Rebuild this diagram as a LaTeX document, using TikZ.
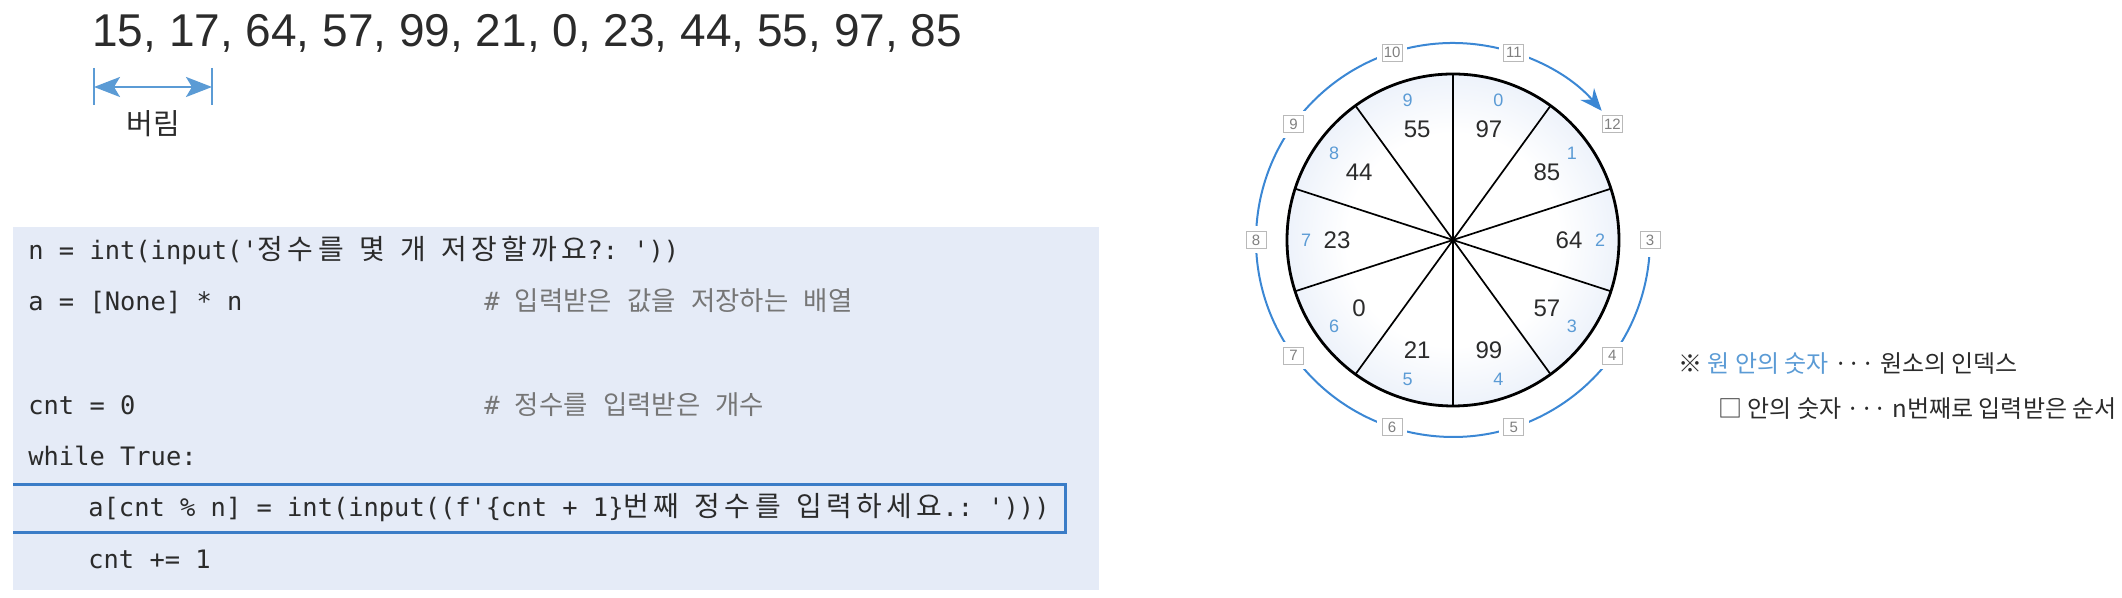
\documentclass[tikz,border=0pt]{standalone}
\usepackage{fontspec}
\setmainfont{Liberation Sans}
\setmonofont{DejaVu Sans Mono}
\newfontfamily\krfont{Noto Sans CJK KR}
\newfontfamily\krcode[Scale=1.1, LetterSpace=16]{Noto Sans CJK KR}
\newfontfamily\krnote[Scale=1.04]{Noto Sans CJK KR}
\usetikzlibrary{arrows.meta,calc,positioning}

\definecolor{txtdark}{HTML}{2B2B2B}
\definecolor{codebg}{HTML}{E5EBF7}
\definecolor{codeblue}{HTML}{3A7CC7}
\definecolor{idxblue}{HTML}{5B9BD5}
\definecolor{arcblue}{HTML}{3B87D4}
\definecolor{rimblue}{HTML}{BCCFEE}
\definecolor{cmtgray}{HTML}{767676}

\pgfdeclareradialshading{rimshade}{\pgfpoint{0bp}{0bp}}{color(0bp)=(white); color(16bp)=(white); color(50bp)=(rimblue)}

\newcommand\kc[1]{{\krcode #1}}
\newcommand\kn[1]{{\krnote #1}}

\tikzstyle{numlist} = [anchor=base west, inner sep=0pt, font=\fontsize{23pt}{27pt}\selectfont, text=txtdark]
\tikzstyle{codeline} = [anchor=base west, inner sep=0pt, font=\ttfamily\fontsize{12.7pt}{15pt}\selectfont, text=txtdark]
\tikzstyle{comment} = [codeline, text=cmtgray]
\tikzstyle{valnum} = [inner sep=0pt, font=\fontsize{12pt}{14pt}\selectfont, text=txtdark]
\tikzstyle{idxnum} = [inner sep=0pt, font=\fontsize{9pt}{10pt}\selectfont, text=idxblue]
\tikzstyle{seqbox} = [draw=gray!55, fill=white, preaction={draw=white, line width=5pt}, minimum width=10pt, minimum height=8.5pt, inner sep=0pt, font=\fontsize{7.5pt}{8pt}\selectfont, text=gray]
\tikzstyle{legend} = [anchor=base west, inner sep=0pt, font=\krfont\fontsize{12pt}{14pt}\selectfont, text=txtdark]

\begin{document}
\begin{tikzpicture}[x=0.5pt, y=0.5pt]
\useasboundingbox (0,0) rectangle (2122,598);

% input sequence
\node[numlist] (nums) at (92,551) {15, 17, 64, 57, 99, 21, 0, 23, 44, 55, 97, 85};
\coordinate (dropl) at (94,511);
\coordinate (dropr) at (212,511);
\draw[idxblue, line width=1pt] ($(dropl)+(0,19)$) -- ($(dropl)+(0,-18)$);
\draw[idxblue, line width=1pt] ($(dropr)+(0,19)$) -- ($(dropr)+(0,-18)$);
\draw[idxblue, line width=1.2pt, {Stealth[length=13pt,width=10pt,inset=3pt]}-{Stealth[length=13pt,width=10pt,inset=3pt]}] (dropl) -- (dropr);
\node[font=\krfont\fontsize{14.5pt}{16pt}\selectfont, text=txtdark] (drop) at (153,474) {버림};

% code
\fill[codebg] (13,8) rectangle (1099,371);
\draw[codeblue, line width=1.5pt] (13,113) -- (1065,113) -- (1065,65) -- (13,65);
\node[codeline] (l1) at (28,338) {n = int(input('\kc{정수를} \kc{몇} \kc{개} \kc{저장할까요}?: '))};
\node[codeline] (l2) at (28,287) {a = [None] * n};
\node[comment] (c2) at (484,287) {\# \kn{입력받은} \kn{값을} \kn{저장하는} \kn{배열}};
\node[codeline] (l4) at (28,183) {cnt = 0};
\node[comment] (c4) at (484,183) {\# \kn{정수를} \kn{입력받은} \kn{개수}};
\node[codeline] (l5) at (28,132) {while True:};
\node[codeline] (l6) at (88,81) {a[cnt \% n] = int(input((f'\{cnt + 1\}\kc{번째} \kc{정수를} \kc{입력하세요}.: ')))};
\node[codeline] (l7) at (88,29) {cnt += 1};

% circular buffer
\coordinate (ctr) at (1453,358);
\shade[shading=rimshade] (ctr) circle (166);
\foreach \a in {18,54,...,342}
  \draw[line width=0.85pt] (ctr) -- ($(ctr)+(\a:166)$);
\draw[line width=1.4pt] (ctr) circle (166);
\foreach \v [count=\i from 0] in {97,85,64,57,99,21,0,23,44,55} {
  \node[valnum] (v\i) at ($(ctr)+({72-36*\i}:116)$) {\v};
  \node[idxnum] (i\i) at ($(ctr)+({72-36*\i}:147)$) {\i};
}
\draw[arcblue, line width=1pt, -{Stealth[length=11pt,width=9pt]}] ($(ctr)+(-5:197)$) arc[start angle=-5, end angle=-319, radius=197];
\foreach \k in {3,...,12}
  \node[seqbox] (s\k) at ($(ctr)+({(13-\k)*36}:197)$) {\k};

% legend
\node[legend] (leg1) at (1678,225) {※ \textcolor{idxblue}{원 안의 숫자} ··· 원소의 인덱스};
\node[legend] (leg2) at (1718,180) {□ 안의 숫자 ··· n번째로 입력받은 순서};
\end{tikzpicture}
\end{document}
